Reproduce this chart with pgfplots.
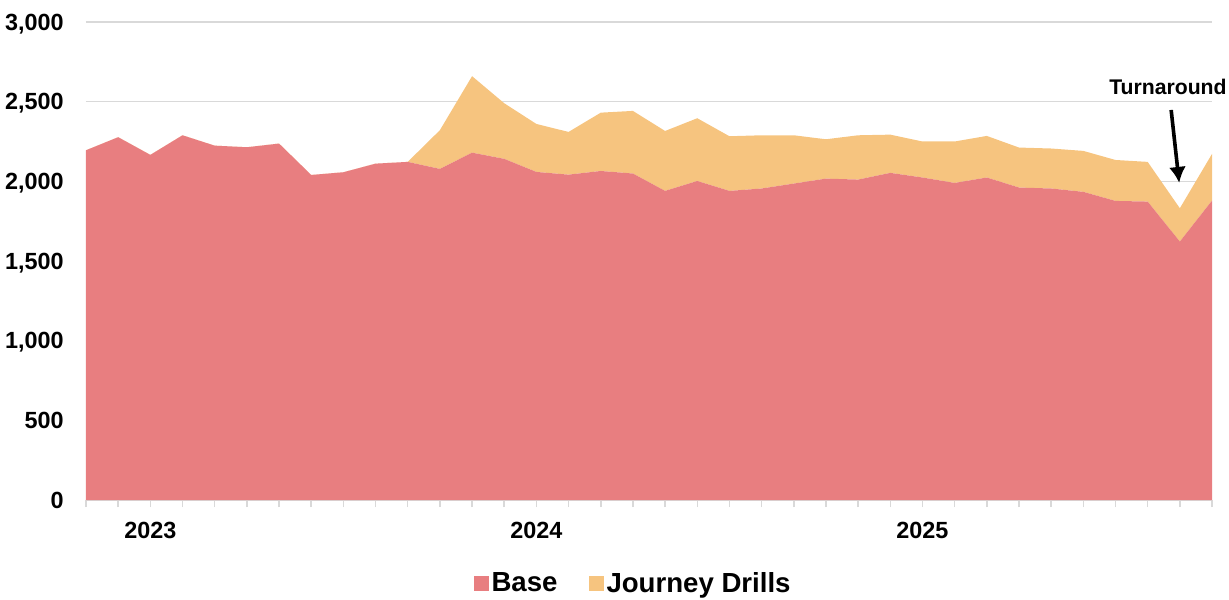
\documentclass[border=0pt]{standalone}
\usepackage{pgfplots}
\pgfplotsset{compat=1.18}
\usepackage{pgfplotstable}
\usepackage{fontspec}
\setmainfont{Liberation Sans}
\usetikzlibrary{arrows.meta}
\definecolor{basered}{HTML}{E87E80}
\definecolor{drillyellow}{HTML}{F6C47F}
\definecolor{gridgrey}{HTML}{D9D9D9}
\pgfplotstableread{
i base drills
0 2195 0
1 2277 0
2 2166 0
3 2289 0
4 2224 0
5 2214 0
6 2237 0
7 2040 0
8 2057 0
9 2111 0
10 2122 0
11 2078 243
12 2180 480
13 2141 349
14 2059 301
15 2042 268
16 2065 366
17 2049 393
18 1940 376
19 2002 394
20 1940 343
21 1955 334
22 1986 303
23 2017 247
24 2011 278
25 2053 240
26 2024 226
27 1990 260
28 2024 261
29 1961 251
30 1955 251
31 1934 257
32 1877 257
33 1873 249
34 1622 209
35 1879 293
}\datatable
\begin{document}
\begin{tikzpicture}
\begin{axis}[
  at={(0,0)}, anchor=south west,
  scale only axis, width=563pt, height=239pt,
  xmin=0, xmax=35, ymin=0, ymax=3000,
  enlargelimits=false, clip=false,
  stack plots=y,
  axis x line*=bottom, axis y line*=left,
  y axis line style={draw=none},
  x axis line style={draw=gridgrey, line width=0.75pt},
  ytick={0,500,...,3000},
  ytick style={draw=none},
  ymajorgrids, grid style={draw=gridgrey, line width=0.75pt},
  xtick={2,14,26}, xticklabels={2023,2024,2025},
  minor xtick={0,...,35},
  xtick style={draw=gridgrey, line width=0.75pt},
  tick align=outside, major tick length=3.5pt, minor tick length=3.5pt,
  /pgf/number format/assume math mode=true,
  /pgf/number format/1000 sep={,},
  ticklabel style={font=\bfseries\fontsize{11.7}{13}\selectfont, inner sep=0pt, text depth=0pt},
  yticklabel style={anchor=east, xshift=-7.5pt},
  xticklabel style={anchor=north, yshift=-7.5pt},
  legend columns=2,
  legend image code/.code={\fill[#1] (0pt,-3.75pt) rectangle (7.5pt,3.75pt);},
  legend style={at={(0.3385,-0.1747)}, anchor=west, draw=none, fill=none,
    font=\bfseries\fontsize{13.8}{15}\selectfont,
    nodes={inner sep=1.5pt},
    /tikz/every even column/.append style={column sep=14pt}},
]
\addplot[fill=basered, draw=none] table[x=i, y=base] {\datatable} \closedcycle;
\addlegendentry{Base}
\addplot[fill=drillyellow, draw=none] table[x=i, y=drills] {\datatable} \closedcycle;
\addlegendentry{Journey Drills}
\draw[line width=1.8pt, -{Latex[length=8pt,width=8.5pt]}] (axis cs:33.73,2448) -- (axis cs:33.98,1990);
\node[font=\bfseries\fontsize{10.6}{12}\selectfont] at (axis cs:33.63,2593) {Turnaround};
\end{axis}
\pgfresetboundingbox
\path[use as bounding box] (-43pt,-49.5pt) rectangle (571.5pt,250pt);
\end{tikzpicture}
\end{document}
